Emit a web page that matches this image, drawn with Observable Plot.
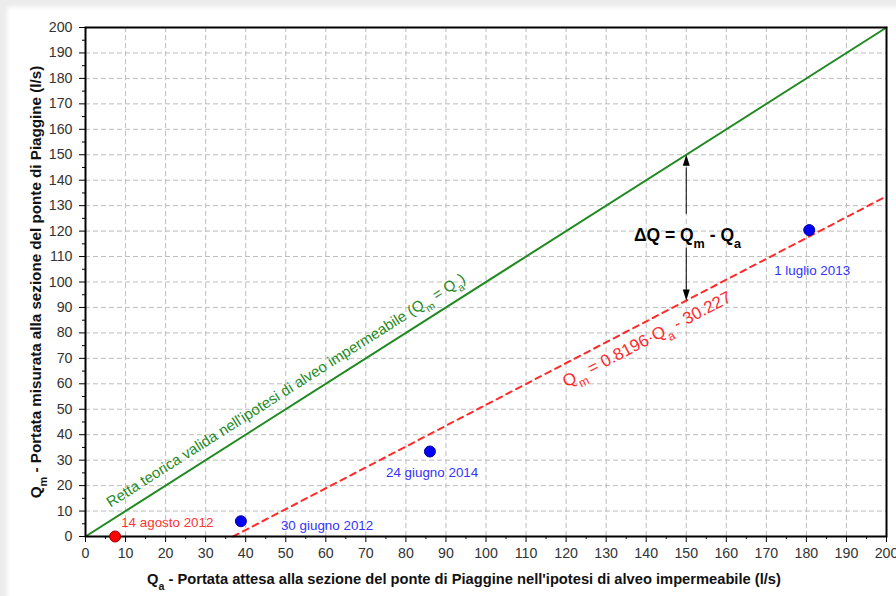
<!DOCTYPE html>
<html>
<head>
<meta charset="utf-8">
<script src="https://cdn.jsdelivr.net/npm/d3@7"></script>
<script src="https://cdn.jsdelivr.net/npm/@observablehq/plot@0.6"></script>
<style>
  html, body { margin: 0; padding: 0; background: white; }
  #chart svg { display: block; }
</style>
</head>
<body>
<div id="chart"></div>
<script>
// ---- data ----
const eventLabels = ["14 agosto 2012", "30 giugno 2012", "24 giugno 2014", "1 luglio 2013"];
const qa = [7.4, 38.8, 86.0, 180.7];       // portata attesa (l/s)
const qm = [0, 6.0, 33.4, 120.4];          // portata misurata (l/s)
const eventGroup = ["evento", "misura", "misura", "misura"];

const fitSlope = 0.8196;
const fitIntercept = -30.227;

const xMajorTicks = [0,10,20,30,40,50,60,70,80,90,100,110,120,130,140,150,160,170,180,190,200];
const yMajorTicks = [0,10,20,30,40,50,60,70,80,90,100,110,120,130,140,150,160,170,180,190,200];
const minorTicks = [5,15,25,35,45,55,65,75,85,95,105,115,125,135,145,155,165,175,185,195];
const gridTicks = [10,20,30,40,50,60,70,80,90,100,110,120,130,140,150,160,170,180,190];

const xTitle = "Q_a - Portata attesa alla sezione del ponte di Piaggine nell'ipotesi di alveo impermeabile (l/s)";
const yTitle = "Q_m - Portata misurata alla sezione del ponte di Piaggine (l/s)";
const theoryLabel = "Retta teorica valida nell'ipotesi di alveo impermeabile (Q_m = Q_a)";
const fitLabel = "Q_m = 0.8196·Q_a - 30.227";
const deltaLabel = "ΔQ = Q_m - Q_a";
const deltaAt = 150;

// ---- derived tables ----
const points = qa.map((x, i) => ({x, y: qm[i], label: eventLabels[i], group: eventGroup[i]}));
const theory = [{x: 0, y: 0}, {x: 200, y: 200}];
const fitLine = [{x: -fitIntercept / fitSlope}, {x: 200}].map(d => ({x: d.x, y: fitSlope * d.x + fitIntercept}));
const fitAtDelta = fitSlope * deltaAt + fitIntercept;

// styles (pixel offsets of the date labels from their points)
const labelStyle = [
  {dx: 6, dy: -14, fill: "#ff3333"},
  {dx: 40, dy: 4, fill: "#3333ff"},
  {dx: -44, dy: 21, fill: "#3333ff"},
  {dx: -35, dy: 41, fill: "#3333ff"}
];

const green = "#1f8a1f";
const red = "#ff2a2a";
const font = "Arial, 'Liberation Sans', Helvetica, sans-serif";
const tickFill = "#333";

const plot = Plot.plot({
  width: 896,
  height: 596,
  marginLeft: 85,
  marginRight: 10,
  marginTop: 27,
  marginBottom: 60,
  style: {fontFamily: font, fontSize: "14px", background: "white"},
  x: {domain: [0, 200], label: null},
  y: {domain: [0, 200], label: null},
  marks: [
    Plot.gridX(gridTicks, {stroke: "#bdbdbd", strokeOpacity: 1, strokeDasharray: "5,3"}),
    Plot.gridY(gridTicks, {stroke: "#bdbdbd", strokeOpacity: 1, strokeDasharray: "5,3"}),
    Plot.axisX(xMajorTicks, {tickSize: 6, text: null, stroke: "black", label: null}),
    Plot.axisX(minorTicks, {tickSize: 3, text: null, stroke: "black", label: null}),
    Plot.axisY(yMajorTicks, {tickSize: 6, text: null, stroke: "black", label: null}),
    Plot.axisY(minorTicks, {tickSize: 3, text: null, stroke: "black", label: null}),
    // tick labels
    Plot.text(xMajorTicks, {x: d => d, frameAnchor: "bottom", lineAnchor: "top", dy: 11, text: d => String(d), fontSize: 14.2, fill: tickFill}),
    Plot.text(yMajorTicks, {y: d => d, frameAnchor: "left", textAnchor: "end", lineAnchor: "middle", dx: -13, text: d => String(d), fontSize: 14.2, fill: tickFill}),
    Plot.line(theory, {x: "x", y: "y", stroke: green, strokeWidth: 2}),
    Plot.line(fitLine, {x: "x", y: "y", stroke: red, strokeWidth: 2, strokeDasharray: "6,5"}),
    Plot.frame({stroke: "black", strokeWidth: 2}),
    // ΔQ annotation
    Plot.link([0], {x1: () => deltaAt, x2: () => deltaAt, y1: () => 126.8, y2: () => 145, stroke: "black", strokeWidth: 1}),
    Plot.link([0], {x1: () => deltaAt, x2: () => deltaAt, y1: () => 113.5, y2: () => fitAtDelta + 4, stroke: "black", strokeWidth: 1}),
    Plot.vector([0], {x: () => deltaAt, y: () => deltaAt, length: 11, r: 3.5, shape: "spike", anchor: "end", rotate: 0, fill: "black", stroke: "none"}),
    Plot.vector([0], {x: () => deltaAt, y: () => fitAtDelta, length: 11, r: 3.5, shape: "spike", anchor: "end", rotate: 180, fill: "black", stroke: "none"}),
    Plot.text([deltaLabel], {x: () => deltaAt + 0.3, y: () => 118.2, text: d => d, fontSize: 17.5, fontWeight: "bold", fill: "black"}),
    // line labels
    Plot.text([theoryLabel], {x: () => 5.6, y: () => 12.9, text: d => d, textAnchor: "start", rotate: -32.45, fontSize: 15, fill: green}),
    Plot.text([fitLabel], {x: () => 119.4, y: () => 60.4, text: d => d, textAnchor: "start", rotate: -27.52, fontSize: 17, fill: red}),
    // points
    Plot.dot(points, {x: "x", y: "y", r: 5.5, fill: d => d.group === "evento" ? "#ff0000" : "#0000ee",
      stroke: d => d.group === "evento" ? "#a00000" : "#0000aa", strokeWidth: 1}),
    // date labels
    ...points.map((p, i) => Plot.text([p], {x: "x", y: "y", text: "label", textAnchor: "start",
      dx: labelStyle[i].dx, dy: labelStyle[i].dy, fontSize: 13.4, fill: labelStyle[i].fill})),
    // axis titles
    Plot.text([xTitle], {frameAnchor: "bottom", text: d => d, textAnchor: "middle", lineAnchor: "middle", dx: -22, dy: 43, fontSize: 14.7, fontWeight: "bold", fill: "#111"}),
    Plot.text([yTitle], {frameAnchor: "left", text: d => d, textAnchor: "middle", lineAnchor: "middle", dx: -49, rotate: -90, fontSize: 15.2, fontWeight: "bold", fill: "#111"})
  ]
});

// subscripts: "_m" / "_a" become real subscript tspans
function subscriptify(el) {
  const s = el.textContent;
  if (!/_[a-z]/.test(s)) return;
  el.textContent = "";
  const parts = s.split(/_([a-z])/);
  parts.forEach((p, i) => {
    if (!p) return;
    const t = document.createElementNS("http://www.w3.org/2000/svg", "tspan");
    t.textContent = p;
    if (i % 2 === 1) {
      t.setAttribute("baseline-shift", "sub");
      t.setAttribute("font-size", "72%");
    }
    el.appendChild(t);
  });
}
plot.querySelectorAll("text").forEach(t => {
  if (t.querySelector("tspan")) t.querySelectorAll("tspan").forEach(subscriptify);
  else subscriptify(t);
});

plot.style.boxShadow = "inset 8px 8px 4px -1px #ececec";
document.getElementById("chart").appendChild(plot);
</script>
</body>
</html>
